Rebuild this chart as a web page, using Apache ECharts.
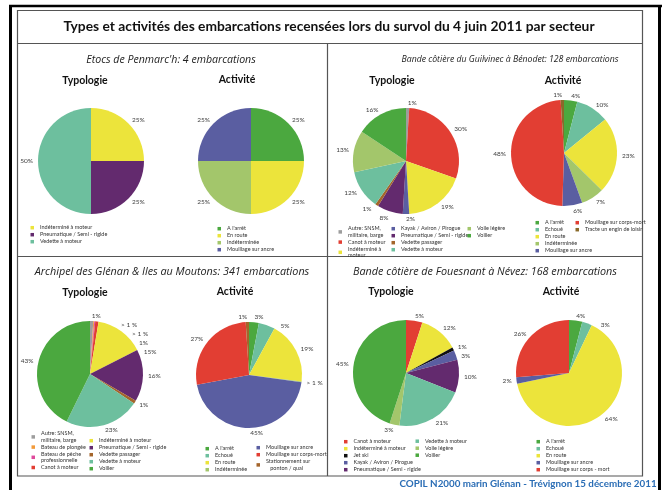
<!DOCTYPE html>
<html>
<head>
<meta charset="utf-8">
<script src="https://cdn.jsdelivr.net/npm/echarts@6/dist/echarts.min.js"></script>
<style>
  html, body { margin: 0; padding: 0; background: #fff; }
  #MyChart { width: 668px; height: 490px; }
</style>
</head>
<body>
<div id="MyChart"></div>
<script>
// Etocs de Penmarc'h
const etocsTypoNames = ['Indéterminé à moteur', 'Pneumatique / Semi - rigide', 'Vedette à moteur'];
const etocsTypoValues = [25, 25, 50];
const etocsActNames = ["A l'arrêt", 'En route', 'Indéterminée', 'Mouillage sur ancre'];
const etocsActValues = [25, 25, 25, 25];

// Guilvinec -> Bénodet
const guilTypoNames = ['Autre: SNSM, militaire, barge', 'Canot à moteur', 'Indéterminé à moteur', 'Kayak / Aviron / Pirogue',
  'Pneumatique / Semi - rigide', 'Vedette passager', 'Vedette à moteur', 'Voile légère', 'Voilier'];
const guilTypoValues = [1, 30, 19, 2, 8, 1, 12, 13, 16];
const guilActNames = ["A l'arrêt", 'Echoué', 'En route', 'Indéterminée', 'Mouillage sur ancre',
  'Mouillage sur corps-mort', 'Tracte un engin de loisir'];
const guilActValues = [4, 10, 23, 7, 6, 48, 1];

// Glénan & Moutons
const glenTypoNames = ['Autre: SNSM, militaire, barge', 'Bateau de plongée', 'Bateau de pêche professionnelle', 'Canot à moteur',
  'Indéterminé à moteur', 'Pneumatique / Semi - rigide', 'Vedette passager', 'Vedette à moteur', 'Voilier'];
const glenTypoValues = [1, 0.3, 0.3, 1, 15, 16, 1, 23, 43];
const glenTypoLabels = ['1%', '> 1 %', '> 1 %', '1%', '15%', '16%', '1%', '23%', '43%'];
const glenActNames = ["A l'arrêt", 'Echoué', 'En route', 'Indéterminée', 'Mouillage sur ancre',
  'Mouillage sur corps-mort', 'Stationnement sur ponton / quai'];
const glenActValues = [3, 5, 19, 0.3, 45, 27, 1];
const glenActLabels = ['3%', '5%', '19%', '> 1 %', '45%', '27%', '1%'];

// Fouesnant -> Névez
const fouTypoNames = ['Canot à moteur', 'Indéterminé à moteur', 'Jet ski', 'Kayak / Aviron / Pirogue',
  'Pneumatique / Semi - rigide', 'Vedette à moteur', 'Voile légère', 'Voilier'];
const fouTypoValues = [5, 12, 1, 3, 10, 21, 3, 45];
const fouActNames = ["A l'arrêt", 'Echoué', 'En route', 'Mouillage sur ancre', 'Mouillage sur corps - mort'];
const fouActValues = [4, 3, 64, 2, 26];

// couleurs par catégorie
const COLORS = {
  'Autre: SNSM, militaire, barge': '#9d9d9d',
  'Bateau de plongée': '#f29a3a',
  'Bateau de pêche professionnelle': '#de4a9c',
  'Canot à moteur': '#e23e33',
  'Indéterminé à moteur': '#ece43b',
  'Jet ski': '#111111',
  'Kayak / Aviron / Pirogue': '#5a5ea1',
  'Pneumatique / Semi - rigide': '#632a6e',
  'Vedette passager': '#a4652b',
  'Vedette à moteur': '#6dbf9e',
  'Voile légère': '#a3c66b',
  'Voilier': '#4ba83f',
  "A l'arrêt": '#4ba83f',
  'Echoué': '#6dbf9e',
  'En route': '#ece43b',
  'Indéterminée': '#a3c66b',
  'Mouillage sur ancre': '#5a5ea1',
  'Mouillage sur corps-mort': '#e23e33',
  'Mouillage sur corps - mort': '#e23e33',
  'Tracte un engin de loisir': '#8a6a2a',
  'Stationnement sur ponton / quai': '#a4652b'
};

function pie(names, values, labels, cx, cy) {
  return {
    type: 'pie',
    center: [cx, cy],
    radius: 53,
    startAngle: 90,
    clockwise: true,
    animation: false,
    silent: true,
    data: names.map((n, i) => ({ name: n, value: values[i], itemStyle: { color: COLORS[n] } })),
    itemStyle: { borderWidth: 0 },
    label: {
      show: true,
      position: 'outside',
      fontFamily: 'Lato',
      fontSize: 6.5,
      color: '#404040',
      distanceToLabelLine: 0,
      formatter: p => labels ? labels[p.dataIndex] : p.value + '%'
    },
    labelLine: { show: false, length: 5, length2: 0 }
  };
}

const WRAP = {
  'Autre: SNSM, militaire, barge': 'Autre: SNSM,\nmilitaire, barge',
  'Bateau de pêche professionnelle': 'Bateau de pêche\nprofessionnelle',
  'Stationnement sur ponton / quai': 'Stationnement sur\n   ponton / quai',
  'Indéterminé à moteur': 'Indéterminé à\nmoteur'
};

function legend(names, left, top, wrap) {
  return {
    data: names.map(n => ({ name: n, icon: 'rect' })),
    orient: 'vertical',
    left: left,
    top: top,
    padding: 0,
    itemGap: 0.6,
    itemWidth: 3.5,
    itemHeight: 3.5,
    selectedMode: false,
    formatter: n => (wrap && wrap.indexOf(n) >= 0) ? WRAP[n] : n,
    textStyle: { fontFamily: 'Lato', fontSize: 5.5, lineHeight: 6.4, color: '#333', padding: [0, 0, 0, 1] }
  };
}

function txt(s, x, y, font, color) {
  return {
    type: 'text', x: x, y: y, silent: true,
    style: { text: s, font: font, fill: color || '#111', align: 'center', textAlign: 'center',
      verticalAlign: 'middle', textVerticalAlign: 'middle' }
  };
}
function line(x1, y1, x2, y2, w, c) {
  return { type: 'line', silent: true, shape: { x1, y1, x2, y2 }, style: { stroke: c || '#555', lineWidth: w || 1 } };
}

const myChart = echarts.init(document.getElementById('MyChart'));
const BOLD = 'bold 10.5px Lato';
const ITAL = 'italic {s}px "Open Sans"';
const option = {
  backgroundColor: '#fff',
  animation: false,
  graphic: [
    // cadre
    line(10.5, 5, 10.5, 490, 3, '#000'),
    line(9, 6, 662, 6, 2.5, '#000'),
    line(659.5, 5, 659.5, 490, 3, '#000'),
    { type: 'rect', silent: true, shape: { x: 17.5, y: 10.5, width: 625, height: 465.5 }, style: { fill: '#fff', stroke: '#555', lineWidth: 1.2 } },
    line(17.5, 43.5, 642.5, 43.5, 1.2),
    line(327.5, 43.5, 327.5, 476, 1.2),
    line(17.5, 256.5, 642.5, 256.5, 1.2),
    txt('Types et activités des embarcations recensées lors du survol du 4 juin 2011 par secteur', 329, 27, 'bold 13.8px Lato', '#111'),
    txt("Etocs de Penmarc'h: 4 embarcations", 171, 60, ITAL.replace('{s}', 10.6), '#222'),
    txt('Bande côtière du Guilvinec à Bénodet: 128 embarcations', 510, 60, ITAL.replace('{s}', 8.7), '#222'),
    txt('Archipel des Glénan & Iles au Moutons: 341 embarcations', 172, 272, ITAL.replace('{s}', 10.8), '#222'),
    txt('Bande côtière de Fouesnant à Névez: 168 embarcations', 485, 272, ITAL.replace('{s}', 10.8), '#222'),
    txt('Typologie', 85, 81, BOLD), txt('Activité', 237, 80, BOLD),
    txt('Typologie', 392, 81, BOLD), txt('Activité', 563, 81, BOLD),
    txt('Typologie', 85, 293, BOLD), txt('Activité', 235, 292, BOLD),
    txt('Typologie', 391, 292, BOLD), txt('Activité', 561, 292, BOLD),
    txt('COPIL N2000 marin Glénan - Trévignon 15 décembre 2011', 528, 484, 'bold 9.8px Lato', '#2a6db5')
  ],
  legend: [
    legend(etocsTypoNames, 30.5, 224.5),
    legend(etocsActNames, 217.5, 225.5),
    legend(guilTypoNames.slice(0, 3), 338.5, 225.5, ['Autre: SNSM, militaire, barge', 'Indéterminé à moteur']),
    legend(guilTypoNames.slice(3, 7), 391.5, 225.5),
    legend(guilTypoNames.slice(7), 467.5, 225.5),
    legend(guilActNames.slice(0, 5), 535.5, 219.5),
    legend(guilActNames.slice(5), 575.5, 219.5),
    legend(glenTypoNames.slice(0, 4), 31.5, 430.5, ['Autre: SNSM, militaire, barge', 'Bateau de pêche professionnelle']),
    legend(glenTypoNames.slice(4), 89.5, 437.5),
    legend(glenActNames.slice(0, 4), 205.5, 445.5),
    legend(glenActNames.slice(4), 256.5, 444.5, ['Stationnement sur ponton / quai']),
    legend(fouTypoNames.slice(0, 5), 344, 438.5),
    legend(fouTypoNames.slice(5), 415.5, 438),
    legend(fouActNames, 536.5, 438.5)
  ],
  series: [
    pie(etocsTypoNames, etocsTypoValues, null, 91, 161),
    pie(etocsActNames, etocsActValues, null, 251, 161),
    pie(guilTypoNames, guilTypoValues, null, 406, 161),
    pie(guilActNames, guilActValues, null, 564, 153),
    pie(glenTypoNames, glenTypoValues, glenTypoLabels, 90, 374),
    pie(glenActNames, glenActValues, glenActLabels, 249, 375),
    pie(fouTypoNames, fouTypoValues, null, 406, 373),
    pie(fouActNames, fouActValues, null, 569, 373)
  ]
};
myChart.setOption(option);
</script>
</body>
</html>
